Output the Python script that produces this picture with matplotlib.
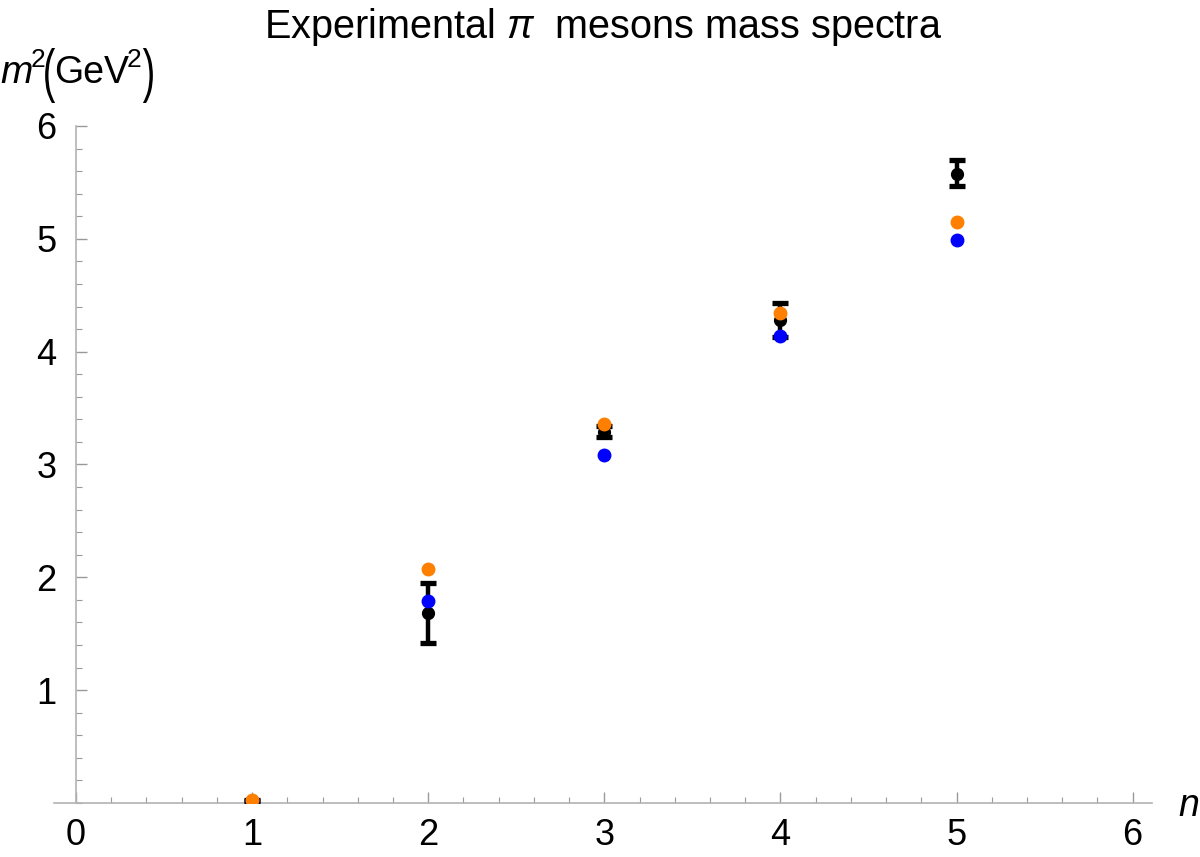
import numpy as np
import matplotlib.pyplot as plt
from matplotlib.ticker import MultipleLocator
from matplotlib.textpath import TextPath
from matplotlib.patches import PathPatch
from matplotlib.font_manager import FontProperties
from matplotlib.transforms import Affine2D, IdentityTransform

plt.rcParams['font.family'] = ['Liberation Sans', 'DejaVu Sans']
plt.rcParams['mathtext.fontset'] = 'custom'
plt.rcParams['mathtext.rm'] = 'Liberation Sans'
plt.rcParams['mathtext.it'] = 'Liberation Sans:italic'

# Data
n = [1, 2, 3, 4, 5]
exp_m2 = [0.0195, 1.68, 3.29, 4.28, 5.57]        # experimental values
exp_err_lo = [0.003, 0.26, 0.05, 0.15, 0.10]
exp_err_hi = [0.003, 0.27, 0.05, 0.15, 0.13]
model_a = [0.03, 2.07, 3.36, 4.34, 5.15]         # orange
model_b = [0.02, 1.79, 3.08, 4.14, 4.99]         # blue

W, H = 1200.0, 857.0
fig = plt.figure(figsize=(12, 8.57), dpi=100)
ax = fig.add_axes([0.045, 0.063, 0.915, 0.79])

ax.errorbar(n, exp_m2, yerr=[exp_err_lo, exp_err_hi], fmt='o', color='black',
            markersize=8.5, elinewidth=3.2, capsize=6, capthick=3.8, zorder=3)
ax.plot(n, model_b, 'o', color='#0000FF', markersize=9, zorder=4)
ax.plot(n, model_a, 'o', color='#FF8000', markersize=9, zorder=5)

ax.set_xlim(-0.125, 6.11)
ax.set_ylim(0, 6.0)

for side in ['top', 'right']:
    ax.spines[side].set_visible(False)
ax.spines['left'].set_position(('data', 0))
ax.spines['left'].set_color('#b3b3b3')
ax.spines['bottom'].set_color('#b3b3b3')
ax.spines['left'].set_linewidth(1.2)
ax.spines['bottom'].set_linewidth(1.2)

ax.xaxis.set_major_locator(MultipleLocator(1))
ax.xaxis.set_minor_locator(MultipleLocator(0.2))
ax.set_yticks([1, 2, 3, 4, 5, 6])
ax.yaxis.set_minor_locator(MultipleLocator(0.2))
ax.tick_params(which='both', direction='in', color='#999999', labelsize=26)
ax.tick_params(which='major', length=8, width=1)
ax.tick_params(which='minor', length=4.5, width=0.8)
ax.tick_params(axis='x', pad=11)
ax.tick_params(axis='y', pad=14)

ax.set_title(r'Experimental $\pi$  mesons mass spectra', fontsize=28.5, pad=63)

renderer = fig.canvas.get_renderer()


def ptext(x, y, s, size, **kw):
    # place text by pixel position (x from left, baseline y from top),
    # returns the right edge in pixels
    t = fig.text(x / W, 1 - y / H, s, fontsize=size, ha='left', va='baseline', **kw)
    return t.get_window_extent(renderer).x1


def tall_paren(ch, x0, top, bottom, width):
    tp = TextPath((0, 0), ch, size=30, prop=FontProperties(family='Liberation Sans'))
    ext = tp.get_extents()
    sx = width / ext.width
    sy = (bottom - top) / ext.height
    tr = (Affine2D().translate(-ext.x0, -ext.y0).scale(sx, sy)
          .translate(x0, H - bottom) + IdentityTransform())
    fig.add_artist(PathPatch(tp, transform=tr, color='black', lw=0))
    return x0 + width


# y axis label: m^2 (GeV^2)
x = ptext(0, 83, 'm', 28, style='italic')
x = ptext(x - 2, 67, '2', 19)
x = tall_paren('(', x, 48, 103, 10)
x = ptext(x - 1, 83, 'GeV', 27)
x = ptext(x - 2, 67, '2', 19)
tall_paren(')', x + 1, 48, 103, 10)

fig.text(1178 / W, 1 - 806 / H, 'n', fontsize=27, style='italic',
         ha='left', va='center')

fig.savefig('out.png', dpi=100)
